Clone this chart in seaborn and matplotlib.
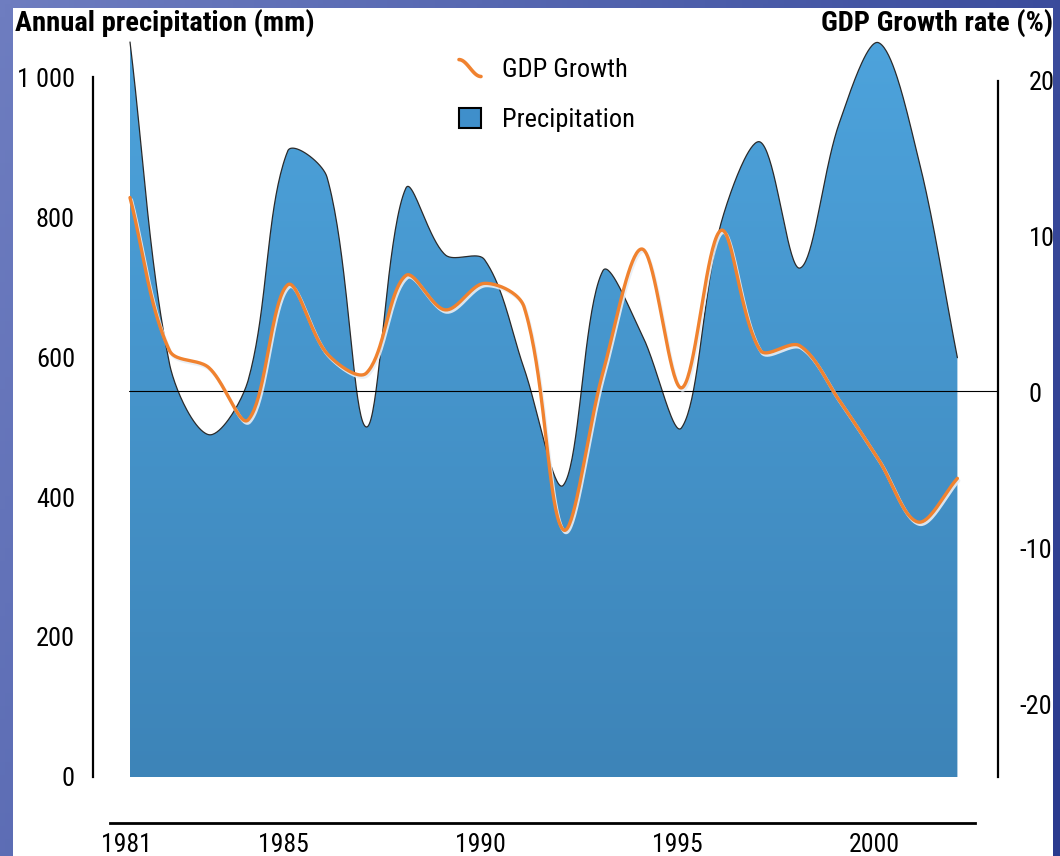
import numpy as np
import pandas as pd
import matplotlib
matplotlib.use("Agg")
import matplotlib.pyplot as plt
import seaborn as sns
from matplotlib import font_manager as fm
from matplotlib.patches import Rectangle, Patch
from matplotlib.lines import Line2D
from matplotlib.legend_handler import HandlerBase
import matplotlib.patheffects as pe
import matplotlib.transforms as mtransforms
from matplotlib.colors import LinearSegmentedColormap

# ---------------- data ----------------
years = list(range(1981, 2003))
precipitation = [1050, 591, 489, 567, 894, 857, 500, 841, 746, 739, 584,
                 417, 723, 631, 499, 791, 907, 727, 934, 1049, 886, 599]
gdp_growth = [12.4, 2.6, 1.5, -1.85, 6.8, 2.4, 1.15, 7.4, 5.2, 6.9, 5.4,
              -8.9, 1.15, 9.1, 0.2, 10.3, 2.6, 2.9, -0.6, -4.4, -8.4, -5.6]
left_ticks = [0, 200, 400, 600, 800, 1000]
left_tick_labels = ["0", "200", "400", "600", "800", "1 000"]
right_ticks = [20, 10, 0, -10, -20]
right_tick_labels = ["20", "10", "0", "-10", "-20"]
year_ticks = [1981, 1985, 1990, 1995, 2000]
year_tick_labels = ["1981", "1985", "1990", "1995", "2000"]
left_title = "Annual precipitation (mm)"
right_title = "GDP Growth rate (%)"
series_names = ["GDP Growth", "Precipitation"]

# ---------------- fonts ----------------
sns.set_theme(style="white")


def wnum(w):
    if isinstance(w, str):
        return fm.weight_dict.get(w, 400)
    return int(w)


ttf = fm.fontManager.ttflist
names = sorted({f.name for f in ttf})
pref = ["Roboto Condensed", "Liberation Sans Narrow", "Archivo Narrow",
        "Open Sans Condensed", "Noto Sans Condensed", "DejaVu Sans Condensed"]
narrow = [n for n in names if ("Narrow" in n or "Condensed" in n)]
ordered = [n for n in pref if n in names] + [n for n in narrow if n not in pref]
if ordered:
    FONT = ordered[0]
    k = 1.0
else:
    FONT = "Liberation Sans"
    k = 0.82

BOLD_FONT, kb = None, 1.0
for n in ordered:
    if any(f.name == n and wnum(f.weight) >= 600 for f in ttf):
        BOLD_FONT = n
        break
if BOLD_FONT is None:
    BOLD_FONT = "Liberation Sans"
    kb = 0.82

plt.rcParams["font.family"] = [FONT, "DejaVu Sans"]

FS_TICK = 19 * k
FS_YEAR = 18.5 * k
FS_LEG = 19 * k
FS_TITLE = 20.5 * kb

W, H = 1060, 856
fig = plt.figure(figsize=(W / 100, H / 100), dpi=100)

# background: blue frame + white panel
bg = fig.add_axes([0, 0, 1, 1], zorder=-5)
gx = np.linspace(0, 1, 200)[None, :]
gy = np.linspace(0, 1, 200)[:, None]
g = 0.75 * gx + 0.25 * (1 - gy)
bg_cmap = LinearSegmentedColormap.from_list("bg", ["#6E7DC0", "#4C5EAA", "#2A3A8E"])
bg.imshow(g, extent=[0, W, 0, H], origin="lower", cmap=bg_cmap, aspect="auto")
bg.add_patch(Rectangle((13, 0), 1053 - 13, H - 8, facecolor="white", edgecolor="none"))
bg.set_xlim(0, W)
bg.set_ylim(0, H)
bg.axis("off")

# pixel <-> data mapping helpers (layout only)
SX, SY_P, SY_G = 39.4, 0.7, 15.6


def px_year(x):
    return 1981 + (x - 130) / SX


def py_mm(y):
    return (777 - y) / SY_P


def py_gdp(y):
    return (391 - y) / SY_G


L, R, T, B = 93, 998, 30, 823
ax = fig.add_axes([L / W, (H - B) / H, (R - L) / W, (B - T) / H])
ax.patch.set_alpha(0)


def smooth(xv, yv, sy, n=40):
    """Office-style smoothed line: Bezier segments, tangents scaled by chord lengths."""
    P = np.column_stack([np.asarray(xv, float) * SX, np.asarray(yv, float) * sy])
    Pe = np.vstack([P[0], P, P[-1]])
    out = []
    for i in range(len(P) - 1):
        p0, p1, p2, p3 = Pe[i], Pe[i + 1], Pe[i + 2], Pe[i + 3]
        d01 = np.hypot(*(p1 - p0))
        d12 = np.hypot(*(p2 - p1))
        d23 = np.hypot(*(p3 - p2))
        f1 = d12 / (d01 + d12) if d01 + d12 > 0 else 0.5
        f2 = d12 / (d12 + d23) if d12 + d23 > 0 else 0.5
        c1 = p1 + (p2 - p0) * f1 / 3
        c2 = p2 - (p3 - p1) * f2 / 3
        t = np.linspace(0, 1, n, endpoint=(i == len(P) - 2))[:, None]
        out.append((1 - t) ** 3 * p1 + 3 * (1 - t) ** 2 * t * c1
                   + 3 * (1 - t) * t ** 2 * c2 + t ** 3 * p2)
    out = np.vstack(out)
    return out[:, 0] / SX, out[:, 1] / sy


px_, py_ = smooth(years, precipitation, SY_P)
gx_, gy_ = smooth(years, gdp_growth, SY_G)
df_p = pd.DataFrame({"year": px_, "mm": py_})
df_g = pd.DataFrame({"year": gx_, "gdp": gy_})

# precipitation area with vertical gradient
poly = ax.fill_between(df_p["year"], 0, df_p["mm"], facecolor="none", edgecolor="none")
grad = np.linspace(0, 1, 256)[:, None]
area_cmap = LinearSegmentedColormap.from_list("area", ["#3D84B8", "#4DA3DC"])
im = ax.imshow(grad, extent=[years[0], years[-1], 0, 1060], origin="lower",
               aspect="auto", cmap=area_cmap, zorder=1)
im.set_clip_path(poly.get_paths()[0], transform=ax.transData)
sns.lineplot(data=df_p, x="year", y="mm", ax=ax, color="#2a2a2a", lw=0.9,
             sort=False, zorder=2, legend=False)

ax.set_xlim(px_year(L), px_year(R))
ax.set_ylim(py_mm(B), py_mm(T))

for s in ["top", "right"]:
    ax.spines[s].set_visible(False)
ax.spines["left"].set_bounds(0, 1000)
ax.spines["left"].set_linewidth(1.6)
ax.spines["left"].set_color("black")
ax.spines["bottom"].set_bounds(px_year(110), px_year(975))
ax.spines["bottom"].set_linewidth(2.0)
ax.spines["bottom"].set_color("black")

ax.set_yticks(left_ticks, left_tick_labels)
ax.set_xticks(year_ticks, year_tick_labels)
ax.tick_params(axis="y", length=0, pad=13, labelsize=FS_TICK, labelcolor="black")
ax.tick_params(axis="x", length=0, pad=7, labelsize=FS_YEAR, labelcolor="black")
shift = mtransforms.ScaledTranslation(-4 / 100, 0, fig.dpi_scale_trans)
for lab in ax.get_xticklabels():
    lab.set_transform(lab.get_transform() + shift)
ax.set_xlabel("")
ax.set_ylabel("")

# GDP axis
ax2 = ax.twinx()
ax2.patch.set_alpha(0)
ax2.set_ylim(py_gdp(B), py_gdp(T))
ax2.set_xlim(px_year(L), px_year(R))
ax2.axhline(0, xmin=(px_year(129) - px_year(L)) / (px_year(R) - px_year(L)), xmax=1,
            color="black", lw=0.8, zorder=2)
sns.lineplot(data=df_g, x="year", y="gdp", ax=ax2, color="#F0822F", lw=2.4,
             sort=False, zorder=3, legend=False,
             path_effects=[pe.SimpleLineShadow(offset=(1.0, -1.6), shadow_color="#E8EEF4", alpha=0.9),
                           pe.Normal()])
for s in ["top", "left", "bottom"]:
    ax2.spines[s].set_visible(False)
ax2.spines["right"].set_bounds(py_gdp(777), py_gdp(81))
ax2.spines["right"].set_linewidth(1.6)
ax2.spines["right"].set_color("black")
ax2.set_yticks(right_ticks, [""] * len(right_ticks))
ax2.tick_params(axis="y", length=0)
ax2.set_ylabel("")
ax2.set_xlabel("")

# right tick labels (digits aligned, minus hanging to the left)
trans = mtransforms.blended_transform_factory(fig.transFigure, ax2.transData)
trans = mtransforms.offset_copy(trans, fig=fig, y=-4, units="dots")
for v, lab in zip(right_ticks, right_tick_labels):
    if v < 0:
        ax2.text(1052 / W, v, lab, transform=trans, ha="right", va="center",
                 fontsize=FS_TICK, color="black")
    else:
        ax2.text(1029 / W, v, lab, transform=trans, ha="left", va="center",
                 fontsize=FS_TICK, color="black")

# titles
fig.text(15 / W, (H - 31) / H, left_title, ha="left", va="baseline",
         fontsize=FS_TITLE, fontweight="bold", family=[BOLD_FONT, "DejaVu Sans"],
         color="black")
fig.text(1053 / W, (H - 31) / H, right_title, ha="right", va="baseline",
         fontsize=FS_TITLE, fontweight="bold", family=[BOLD_FONT, "DejaVu Sans"],
         color="black")


# legend with a squiggle line handle
class SquiggleHandler(HandlerBase):
    def create_artists(self, legend, orig_handle, xdescent, ydescent,
                       width, height, fontsize, trans):
        t = np.linspace(0, 1, 40)
        xs = -xdescent + t * width
        ys = -ydescent + height * (0.5 + 0.42 * np.cos(np.pi * t))
        ln = Line2D(xs, ys, color=orig_handle.get_color(), lw=orig_handle.get_linewidth(),
                    solid_capstyle="round", transform=trans)
        return [ln]


fsl = FS_LEG * 100 / 72
handles = [Line2D([], [], color="#F0822F", lw=2.6),
           Patch(facecolor="#3F8FCB", edgecolor="black", linewidth=1.5)]
leg = ax.legend(handles, series_names, loc="upper left",
                bbox_to_anchor=(459 / W, (H - 58) / H), bbox_transform=fig.transFigure,
                frameon=False, fontsize=FS_LEG, handlelength=22 / fsl, handleheight=21 / fsl,
                handletextpad=21 / fsl, labelspacing=(51 - 0.97 * fsl) / fsl,
                borderpad=0, borderaxespad=0,
                handler_map={Line2D: SquiggleHandler()})
for txt in leg.get_texts():
    txt.set_color("black")

fig.savefig("out.png", dpi=100)
